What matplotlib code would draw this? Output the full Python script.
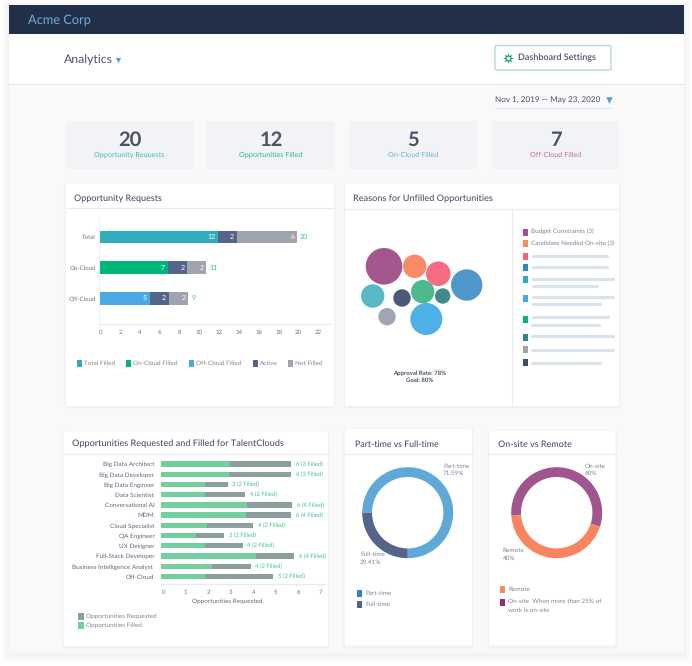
import matplotlib
matplotlib.use('Agg')
import matplotlib.pyplot as plt
from matplotlib.patches import FancyBboxPatch, Rectangle
from matplotlib.transforms import ScaledTranslation

plt.rcParams['font.family'] = ['Lato', 'DejaVu Sans']
# small labels space out badly when hinted
plt.rcParams['text.hinting'] = 'no_hinting'
plt.rcParams['text.hinting_factor'] = 8

W, H = 692, 666
SMALL = 4.55

# --- data ---
stat_values = ['20', '12', '5', '7']
stat_labels = ['Opportunity Requests', 'Opportunities Filled', 'On-Cloud Filled', 'Off-Cloud Filled']

request_rows = ['Total', 'On-Cloud', 'Off-Cloud']
request_filled = [12, 6.9, 5.1]
request_active = [1.9, 2, 1.9]
request_not_filled = [6.1, 1.9, 2]
request_filled_labels = ['12', '7', '5']
request_active_labels = ['2', '2', '2']
request_not_filled_labels = ['6', '2', '2']
request_totals = ['20', '11', '9']
request_legend = ['Total Filled', 'On-Cloud Filled', 'Off-Cloud Filled', 'Active', 'Not Filled']

# bubble layout in px inside the bubble panel
bubble_x = [39, 69.7, 93.3, 121.7, 27.7, 57, 77.7, 97.7, 42, 81.3]
bubble_y = [56.3, 56.3, 63.7, 75, 86, 88, 81.7, 86, 106.7, 109]
bubble_r = [18.3, 11.7, 12.3, 15.7, 11.7, 8.7, 11.7, 7.7, 8.7, 16]
reason_labels = ['Budget Constraints (3)', 'Candidate Needed On-site (3)']

talent_roles = ['Big Data Architect', 'Big Data Developer', 'Big Data Engineer', 'Data Scientist',
                'Conversational AI', 'MDM', 'Cloud Specialist', 'QA Engineer', 'UX Designer',
                'Full-Stack Developer', 'Business Intelligence Analyst ', 'Off-Cloud']
talent_requested = [5.8, 5.8, 2.98, 3.76, 5.84, 5.8, 4.12, 2.83, 3.66, 5.94, 4.01, 5.0]
talent_filled = [3.08, 3.05, 1.97, 1.97, 3.85, 3.79, 2.06, 1.57, 1.97, 4.22, 2.28, 1.97]
talent_labels = ['6 (3 Filled)', '6 (3 Filled)', '3 (2 Filled)', '4 (2 Filled)', '6 (4 Filled)', '6 (4 Filled)',
                 '4 (2 Filled)', '3 (2 Filled)', '4 (2 Filled)', '6 (4 Filled)', '4 (2 Filled)', '5 (2 Filled)']

# ring shares as drawn in the picture (the printed percentages differ a bit)
work_shares = [75, 25]
site_shares = [56.1, 43.9]

# --- colours ---
INK = '#4a5268'
MUTED = '#7f8596'
TEAL = '#2fadbd'
GREEN = '#00b67a'
SKY = '#4aa8e4'
NAVY = '#55648a'
GREY = '#9fa4af'
LINE = '#e8ecf1'
bubble_colors = ['#a4578f', '#f98a68', '#f76c82', '#4f98c9', '#59b8c6',
                 '#4a5a78', '#4dba8d', '#3f8a8e', '#a0a6b1', '#4db0e6']

fig = plt.figure(figsize=(W / 100, H / 100), dpi=100, facecolor='white')
bg = fig.add_axes([0, 0, 1, 1])
bg.set_xlim(0, W)
bg.set_ylim(H, 0)
bg.axis('off')


def px_axes(x0, y0, x1, y1):
    ax = fig.add_axes([x0 / W, 1 - y1 / H, (x1 - x0) / W, (y1 - y0) / H])
    ax.patch.set_alpha(0)
    return ax


def rect(x0, y0, x1, y1, color, **kw):
    bg.add_patch(Rectangle((x0, y0), x1 - x0, y1 - y0, facecolor=color, edgecolor='none', **kw))


def txt(x, y, s, size=SMALL, color=MUTED, ha='left', weight='normal', **kw):
    bg.text(x, y, s, fontsize=size, color=color, ha=ha, va='center', fontweight=weight, **kw)


def card(x0, y0, x1, y1, line_y=None):
    for grow, alpha in [(2, 0.012), (1, 0.025)]:
        bg.add_patch(FancyBboxPatch((x0 - grow, y0 - grow + 1), x1 - x0 + 2 * grow, y1 - y0 + 2 * grow,
                                    boxstyle='round,pad=0,rounding_size=2', facecolor='black',
                                    edgecolor='none', alpha=alpha))
    bg.add_patch(FancyBboxPatch((x0, y0), x1 - x0, y1 - y0, boxstyle='round,pad=0,rounding_size=1.5',
                                facecolor='white', edgecolor='none'))
    if line_y:
        bg.plot([x0, x1], [line_y, line_y], color=LINE, lw=0.8)


def swatch(x, y, color, w=5, h=7):
    rect(x - w / 2, y - h / 2, x + w / 2, y + h / 2, color)


def shift_ticklabels(ax, dx):
    off = ScaledTranslation(dx / 100, 0, fig.dpi_scale_trans)
    for lab in ax.get_xticklabels():
        lab.set_transform(lab.get_transform() + off)


def style_axis(ax, ypad=2.5):
    for side in ['top', 'right']:
        ax.spines[side].set_visible(False)
    ax.spines['bottom'].set_color('#e4ebf2')
    ax.spines['left'].set_color('#eef3f7')
    ax.spines['bottom'].set_linewidth(0.8)
    ax.spines['left'].set_linewidth(0.8)
    ax.tick_params(axis='y', length=0, pad=ypad)
    ax.tick_params(axis='x', length=1.5, width=0.5, color='#dde4ec', pad=2.5)


# --- page ---
for grow, alpha in [(8, 0.008), (6, 0.01), (4, 0.012), (2, 0.015)]:
    rect(9 - grow, 5 - grow + 2, 684 + grow, 653 + grow + 2, 'black', alpha=alpha)
rect(9, 84, 684, 653, '#f9f9fa')
rect(9, 34, 684, 84, 'white')
rect(9, 5, 684, 34, '#222f48')
bg.plot([9, 684], [84, 84], color='#e6e8ea', lw=0.8)
txt(28, 20, 'Acme Corp', size=9.2, color='#6ea3cf', weight='medium')
txt(63.5, 60, 'Analytics', size=8.8, color=INK)
bg.scatter([118], [60], marker='v', s=14, color='#5b9bd1', linewidths=0)

bg.add_patch(FancyBboxPatch((495, 45.5), 116, 24.5, boxstyle='round,pad=0,rounding_size=1.5',
                            facecolor='white', edgecolor='#b3ddcd', lw=1))
bg.scatter([508], [58], marker=(8, 1, 0), s=60, color='#17a678', linewidths=0, zorder=3)
bg.scatter([508], [58], marker='o', s=6, color='white', linewidths=0, zorder=4)
txt(518, 58, 'Dashboard Settings', size=6.5, color=INK, weight='semibold')

txt(495, 100, 'Nov 1, 2019 — May 23, 2020', size=5.9, color=INK)
bg.scatter([609], [100], marker='v', s=22, color='#5b9bd1', linewidths=0)
bg.plot([495, 611], [108, 108], color='#dde6ef', lw=0.8)

# --- stat tiles ---
stat_boxes = [(66, 193), (207, 335), (349, 477), (492, 619)]
stat_colors = ['#45b5c4', '#25bb8a', '#68aedd', '#bb70a6']
for (x0, x1), val, lab, col in zip(stat_boxes, stat_values, stat_labels, stat_colors):
    bg.add_patch(FancyBboxPatch((x0, 121), x1 - x0, 48, boxstyle='round,pad=0,rounding_size=1.5',
                                facecolor='#f1f3f6', edgecolor='none'))
    xc = (x0 + x1) / 2
    txt(xc, 140, val, size=14.5, color=INK, ha='center', weight='bold')
    txt(xc, 155, lab, size=5.2, color=col, ha='center')

# --- cards ---
card(65.7, 184, 334, 406, 208)
card(345, 184, 619.3, 406, 209)
card(63.3, 431.3, 328, 646, 454)
card(344.7, 429, 472, 645.7, 454)
card(489, 431, 615.7, 645.7, 454)
bg.plot([511.7, 511.7], [209, 406], color=LINE, lw=0.8)

txt(74, 198.5, 'Opportunity Requests', size=6.5, color=INK, weight='medium')
txt(353, 199, 'Reasons for Unfilled Opportunities', size=6.6, color=INK, weight='medium')
txt(72, 443.6, 'Opportunities Requested and Filled for TalentClouds', size=6.6, color=INK, weight='medium')
txt(354.7, 444, 'Part-time vs Full-time', size=6.35, color=INK, weight='medium')
txt(498, 444.5, 'On-site vs Remote', size=6.5, color=INK, weight='medium')

# --- opportunity requests ---
ax = px_axes(99.3, 216.7, 330.7, 324)
rows = range(len(request_rows))
filled_colors = [TEAL, GREEN, SKY]
total_colors = ['#45b5c4', '#25bb8a', '#68aedd']
left2 = [a + b for a, b in zip(request_filled, request_active)]
left3 = [a + b for a, b in zip(left2, request_not_filled)]
ax.barh(rows, request_filled, height=0.41, color=filled_colors)
ax.barh(rows, request_active, left=request_filled, height=0.41, color=NAVY)
ax.barh(rows, request_not_filled, left=left2, height=0.41, color=GREY)
for i in rows:
    for end, lab in [(request_filled[i], request_filled_labels[i]),
                     (left2[i], request_active_labels[i]),
                     (left3[i], request_not_filled_labels[i])]:
        ax.annotate(lab, (end, i), xytext=(-2, 0), textcoords='offset points', ha='right', va='center',
                    fontsize=5, color='white')
    ax.annotate(request_totals[i], (left3[i], i), xytext=(2.2, 0), textcoords='offset points', va='center',
                fontsize=5, color=total_colors[i])
ax.set_xlim(0, 23.4)
ax.set_ylim(2.84, -0.66)
ax.set_yticks(list(rows), request_rows, fontsize=4.4, color='#6d7382')
ax.set_xticks(range(0, 23, 2))
ax.tick_params(axis='x', labelsize=4.4, labelcolor='#6d7382')
style_axis(ax)
shift_ticklabels(ax, 1.3)

legend_x = [79, 128.7, 191.7, 255, 290.3]
legend_colors = [TEAL, GREEN, SKY, NAVY, GREY]
for x, lab, col in zip(legend_x, request_legend, legend_colors):
    swatch(x, 363, col)
    txt(x + 4.5, 363, lab)

# --- bubbles ---
ax = px_axes(345, 210, 511, 406)
ax.set_xlim(0, 166)
ax.set_ylim(196, 0)
ax.axis('off')
ax.scatter(bubble_x, bubble_y, s=[(2 * r * 0.72) ** 2 for r in bubble_r], c=bubble_colors, linewidths=0)
txt(419.3, 373.7, 'Approval Rate: 78%', size=4.3, color=INK, ha='center', weight='bold')
txt(419.3, 380.2, 'Goal: 80%', size=4.3, color=INK, ha='center', weight='bold')

reason_y = [232.3, 243.7, 256, 267.7, 279.3, 298.3, 319, 337.7, 349.7, 362]
reason_colors = ['#a4508f', '#f98a68', '#f2627a', '#2f86c6', '#2cadba',
                 '#4aa8e4', '#00b67a', '#33848a', '#9ea3ae', '#3c4a6b']
for y, col in zip(reason_y, reason_colors):
    swatch(525.7, y, col)
txt(531, 231.3, reason_labels[0])
txt(531, 243.3, reason_labels[1])

# redacted legend text
redacted = [(256, 533.3, 606.7), (267, 533.3, 606.7), (279, 533.3, 612.7), (286, 533.3, 596.7),
            (297, 533.3, 612.7), (304, 533.3, 600), (317, 533.3, 607.7), (325, 532.3, 598.7),
            (335.7, 532.3, 612.7), (349.7, 532.3, 612.7), (362.7, 532.3, 600)]
for y, x0, x1 in redacted:
    bg.plot([x0, x1], [y, y], color='#dbe3ea', lw=2.3, solid_capstyle='round')

# --- talent clouds ---
ax = px_axes(160.7, 456, 325, 584)
rows = range(len(talent_roles))
row_h = 10.23
ax.barh(rows, talent_requested, height=0.52, color='#8c9f9d')
ax.barh(rows, talent_filled, height=0.52, color='#74cf9e')
for i in rows:
    ax.annotate(talent_labels[i], (talent_requested[i], i), xytext=(3.2, 0), textcoords='offset points',
                va='center', fontsize=4.2, color='#3cc48f')
ax.set_xlim(0, 164.3 / 22.5)
top = (456 - 464) / row_h
ax.set_ylim(top + 128 / row_h, top)
ax.set_yticks(list(rows), talent_roles, fontsize=SMALL, color='#60677a')
ax.set_xticks(range(8))
ax.tick_params(axis='x', labelsize=4.4, labelcolor='#6d7382')
style_axis(ax, ypad=4.6)
ax.spines['left'].set_visible(False)
shift_ticklabels(ax, 2.5)
txt(227.3, 601.3, 'Opportunities Requested', color='#60677a', ha='center')
swatch(81, 616.3, '#8c9f9d', w=5.5, h=7)
swatch(81, 625.3, '#74cf9e', w=5.5, h=7)
txt(86.3, 616, 'Opportunities Requested')
txt(86.3, 625.3, 'Opportunities Filled')


# --- rings ---
def ring(xc, yc, shares, colors, start):
    r = 45.5
    ax = px_axes(xc - r, yc - r, xc + r, yc + r)
    ax.pie(shares, colors=colors, startangle=start, counterclock=True, radius=1,
           wedgeprops=dict(width=0.215, linewidth=0))
    ax.set_xlim(-1, 1)
    ax.set_ylim(-1, 1)


ring(407.7, 512.7, work_shares, ['#5fa8d8', '#55648a'], 270)
ring(556.7, 512.7, site_shares, ['#a0558e', '#f98460'], 342)

txt(443, 466, 'Part-time')
txt(443, 473.7, '71.59%')
txt(360, 554.3, 'Full-time')
txt(360, 562, '29.41%')
swatch(359.7, 593.3, '#2e86c1')
swatch(359.7, 604.3, '#54618a')
txt(365, 593.3, 'Part-time')
txt(365, 604.3, 'Full-time')

txt(585, 466, 'On-site')
txt(585, 473.7, '60%')
txt(502.7, 550.3, 'Remote')
txt(502.7, 558, '40%')
swatch(502.7, 589.7, '#f98a5f')
swatch(502.7, 602, '#8e2c80')
txt(508.3, 589.7, 'Remote')
txt(508.3, 601.7, 'On-site  When more than 25% of')
txt(508.3, 610, 'work is on-site')

fig.savefig('out.png', dpi=100, facecolor='white')
